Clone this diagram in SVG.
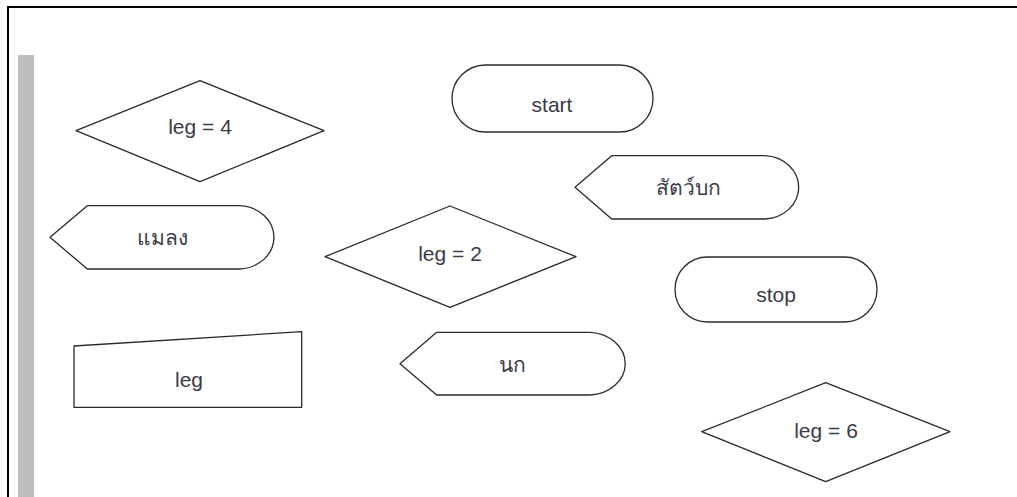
<svg xmlns="http://www.w3.org/2000/svg" width="1017" height="497" viewBox="0 0 1017 497">
<style>
.s{fill:#fff;stroke:#2a2a2a;stroke-width:1.3;stroke-linejoin:round}
.t{font-family:"Liberation Sans","DejaVu Sans","Noto Sans",sans-serif;font-size:21px;fill:#3a3a48;text-anchor:middle}
</style>
<rect width="1017" height="497" fill="#fff"/>
<g id="frame">
<path d="M8,497 V7 H1017" fill="none" stroke="#000" stroke-width="2"/>
<rect x="18" y="55" width="16" height="442" fill="#bdbdbd"/>
</g>
<g id="connectors"></g>
<g id="dec-leg4"><polygon class="s" points="76,130.7 200,80.7 324,130.7 200,181.7"/><text class="t" x="200" y="134">leg = 4</text></g>
<g id="start"><rect class="s" x="452" y="65" width="201" height="67" rx="33.5"/><text class="t" x="552" y="111.5">start</text></g>
<g id="disp-bird-land"><path class="s" d="M575,187.3 L611.7,155.7 H765 A35.7,31.7 0 0 1 765,219 H611.7 Z"/><text class="t" x="688" y="195">สัตว์บก</text></g>
<g id="disp-insect"><path class="s" d="M50,237.3 L87.3,205.7 H240 A36,31.7 0 0 1 240,269 H87.3 Z"/><text class="t" x="162" y="245">แมลง</text></g>
<g id="dec-leg2"><polygon class="s" points="325,256.7 450,206 576,256.7 450,307.3"/><text class="t" x="450" y="260.7">leg = 2</text></g>
<g id="stop"><rect class="s" x="675" y="257" width="202" height="65" rx="32.5"/><text class="t" x="776" y="301.5">stop</text></g>
<g id="input-leg"><polygon class="s" points="74,346 301.7,331.7 301.7,407.3 74,407.3"/><text class="t" x="189" y="386.7">leg</text></g>
<g id="disp-bird"><path class="s" d="M400,363.7 L436.7,332.3 H590 A37.3,31.4 0 0 1 590,395 H436.7 Z"/><text class="t" x="512" y="371.7">นก</text></g>
<g id="dec-leg6"><polygon class="s" points="701.7,431.7 825.7,382.7 950,431.7 825.7,481.7"/><text class="t" x="826" y="438.3">leg = 6</text></g>
</svg>
